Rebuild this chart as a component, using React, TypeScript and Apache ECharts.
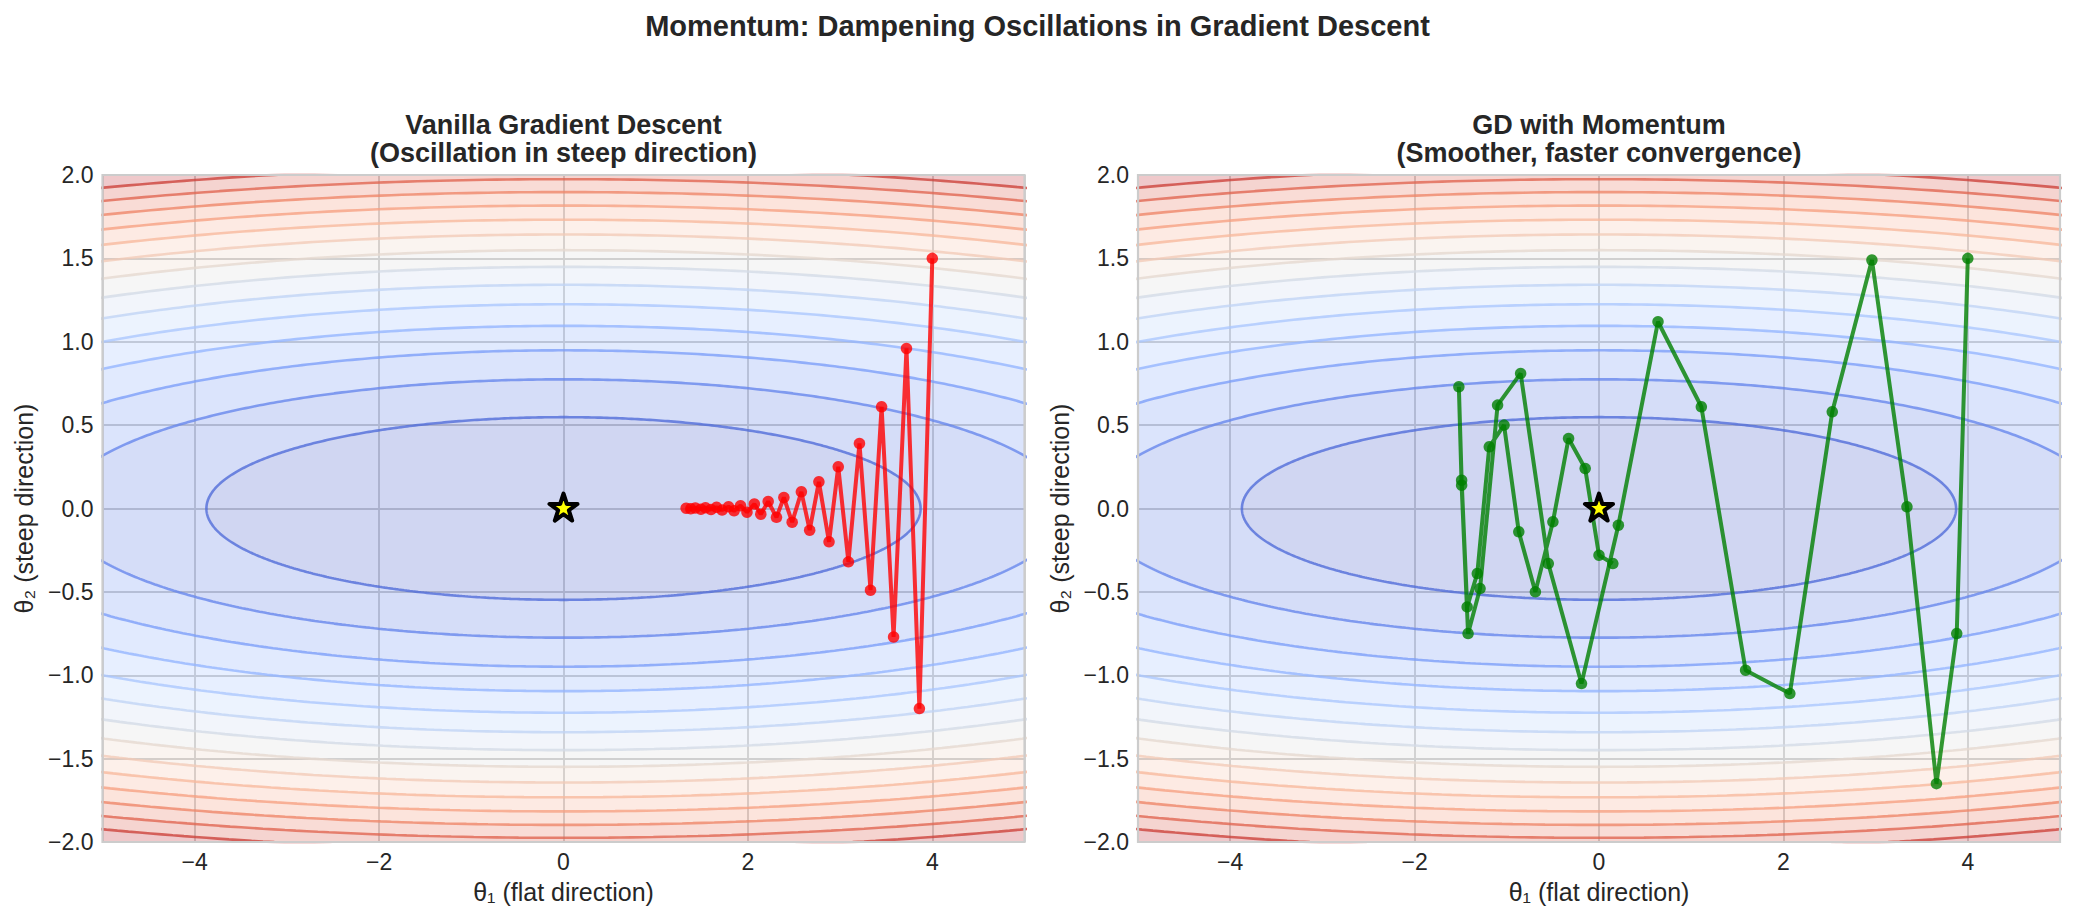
import React, { useEffect, useRef } from 'react';
import * as echarts from 'echarts';

// ---------- texts ----------
const suptitle = 'Momentum: Dampening Oscillations in Gradient Descent';
const panelTitles = [
  'Vanilla Gradient Descent\n(Oscillation in steep direction)',
  'GD with Momentum\n(Smoother, faster convergence)',
];
const xLabel = 'θ₁ (flat direction)';
const yLabel = 'θ₂ (steep direction)';

// ---------- axes ----------
const xRange = [-5, 5];
const yRange = [-2, 2];
const xTicks = [-4, -2, 0, 2, 4];
const yTicks = [-2, -1.5, -1, -0.5, 0, 0.5, 1, 1.5, 2];

// ---------- loss surface f = a·θ₁² + b·θ₂² and its contour levels ----------
const lossA = 0.1;
const lossB = 5;
const contourLevels = [0, 1.5, 3, 4.5, 6, 7.5, 9, 10.5, 12, 13.5, 15, 16.5, 18, 19.5, 21, 22.5];

// ---------- optimizer paths ----------
const gdX = [4.0, 3.86, 3.72, 3.58, 3.45, 3.33, 3.21, 3.09, 2.98, 2.88, 2.77, 2.67, 2.58, 2.48, 2.39, 2.31, 2.22, 2.14, 2.07, 1.99, 1.92, 1.85, 1.79, 1.72, 1.66, 1.6, 1.54, 1.49, 1.43, 1.38, 1.33];
const gdY = [1.5, -1.2, 0.96, -0.77, 0.61, -0.49, 0.39, -0.32, 0.25, -0.2, 0.16, -0.13, 0.1, -0.082, 0.066, -0.053, 0.042, -0.034, 0.027, -0.022, 0.017, -0.014, 0.011, -0.009, 0.007, -0.006, 0.005, -0.004, 0.003, -0.002, 0.002];
const momX = [4.0, 3.88, 3.66, 3.34, 2.96, 2.53, 2.07, 1.59, 1.11, 0.64, 0.21, -0.19, -0.55, -0.85, -1.1, -1.29, -1.42, -1.49, -1.52, -1.49, -1.43, -1.32, -1.19, -1.03, -0.87, -0.69, -0.5, -0.33, -0.15, 0.0, 0.15];
const momY = [1.5, -0.75, -1.65, 0.01, 1.49, 0.58, -1.11, -0.97, 0.61, 1.12, -0.1, -1.05, -0.33, 0.81, 0.62, -0.48, -0.75, 0.14, 0.73, 0.17, -0.59, -0.39, 0.37, 0.5, -0.14, -0.5, -0.08, 0.42, 0.24, -0.28, -0.33];
const optimum = [0, 0];

// coolwarm colormap table
const COOLWARM = [[59,76,192],[68,90,204],[77,104,215],[87,117,225],[98,130,234],[108,142,241],[119,154,247],[130,165,251],[141,176,254],[152,185,255],[163,194,255],[174,201,253],[184,208,249],[194,213,244],[204,217,238],[213,219,230],[221,221,221],[229,216,209],[236,211,197],[241,204,185],[245,196,173],[247,187,160],[247,177,148],[247,166,135],[244,154,123],[241,141,111],[236,127,99],[229,112,88],[222,96,77],[213,80,66],[203,62,56],[192,40,47],[180,4,38]];

function coolwarm(t: number, alpha: number) {
  const tt = Math.max(0, Math.min(1, t));
  const s = tt * (COOLWARM.length - 1);
  const i = Math.min(COOLWARM.length - 2, Math.floor(s));
  const f = s - i;
  const c = COOLWARM[i].map((v, k) => Math.round(v + (COOLWARM[i + 1][k] - v) * f));
  return `rgba(${c[0]},${c[1]},${c[2]},${alpha})`;
}

const FONT = "'Liberation Sans', Arial, Helvetica, sans-serif";
const TEXT = '#262626';
const FILL_ALPHA = 0.25;
const LINE_ALPHA = 0.78;
const N_ELL = 720;

function ellipse(level: number): number[][] {
  const ax = Math.sqrt(level / lossA);
  const ay = Math.sqrt(level / lossB);
  const pts: number[][] = [];
  for (let i = 0; i < N_ELL; i++) {
    const t = (2 * Math.PI * i) / N_ELL;
    pts.push([ax * Math.cos(t), ay * Math.sin(t)]);
  }
  return pts;
}

function intersect(a: number[], b: number[], axis: number, val: number) {
  const t = (val - a[axis]) / (b[axis] - a[axis]);
  return [a[0] + t * (b[0] - a[0]), a[1] + t * (b[1] - a[1])];
}

function clipPoly(pts: number[][]) {
  let out = pts;
  const bounds: [number, number, number][] = [
    [0, xRange[0], 1], [0, xRange[1], -1], [1, yRange[0], 1], [1, yRange[1], -1],
  ];
  for (const [axis, val, sign] of bounds) {
    const inp = out;
    out = [];
    const n = inp.length;
    if (!n) break;
    for (let i = 0; i < n; i++) {
      const cur = inp[i];
      const prev = inp[(i + n - 1) % n];
      const cin = (cur[axis] - val) * sign >= 0;
      const pin = (prev[axis] - val) * sign >= 0;
      if (cin) {
        if (!pin) out.push(intersect(prev, cur, axis, val));
        out.push(cur);
      } else if (pin) {
        out.push(intersect(prev, cur, axis, val));
      }
    }
  }
  return out;
}

function starSymbol() {
  let d = '';
  for (let k = 0; k < 10; k++) {
    const r = k % 2 ? 0.382 : 1;
    const a = ((-90 + 36 * k) * Math.PI) / 180;
    d += (k ? 'L' : 'M') + (r * Math.cos(a)).toFixed(4) + ',' + (r * Math.sin(a)).toFixed(4);
  }
  return 'path://' + d + 'Z';
}

const panels = [
  { left: 102.5, top: 175, width: 922, height: 667 },
  { left: 1138, top: 175, width: 922, height: 667 },
];

const fmtNum = (v: number, dec: number) => (v < 0 ? '\u2212' : '') + Math.abs(v).toFixed(dec);

export default function App() {
  const ref = useRef<HTMLDivElement>(null);

  useEffect(() => {
    if (!ref.current) return;
    const chart = echarts.init(ref.current, undefined, { renderer: 'svg' });
    const maxLevel = contourLevels[contourLevels.length - 1];
    const rectPoly = [[xRange[0], yRange[0]], [xRange[1], yRange[0]], [xRange[1], yRange[1]], [xRange[0], yRange[1]]];

    const series: any[] = [];
    panels.forEach((_, gi) => {
      // filled bands
      series.push({
        type: 'custom',
        xAxisIndex: gi,
        yAxisIndex: gi,
        silent: true,
        clip: true,
        z: 1,
        encode: { x: 0, y: 1 },
        data: contourLevels.slice(0, -1).map((_, i) => [0, 0, i]),
        renderItem: (params: any, api: any) => {
          const k = api.value(2);
          const lo = contourLevels[k];
          const hi = contourLevels[k + 1];
          const outer = k === contourLevels.length - 2 ? rectPoly : clipPoly(ellipse(hi));
          const inner = lo > 0 ? clipPoly(ellipse(lo)) : [];
          const toPath = (pts: number[][], rev: boolean) => {
            const p = rev ? pts.slice().reverse() : pts;
            return p.map((q, i) => {
              const c = api.coord(q);
              return (i ? 'L' : 'M') + c[0].toFixed(2) + ' ' + c[1].toFixed(2);
            }).join('') + 'Z';
          };
          let d = toPath(outer, false);
          if (inner.length) d += toPath(inner, true);
          return {
            type: 'path',
            shape: { pathData: d },
            style: { fill: coolwarm(((lo + hi) / 2) / maxLevel, FILL_ALPHA), stroke: 'none' },
          };
        },
      });
      // contour lines
      contourLevels.slice(1, -1).forEach((L) => {
        const pts = ellipse(L);
        pts.push(pts[0]);
        series.push({
          type: 'line',
          xAxisIndex: gi,
          yAxisIndex: gi,
          silent: true,
          z: 2,
          symbol: 'none',
          showSymbol: false,
          data: pts,
          lineStyle: { color: coolwarm(L / maxLevel, LINE_ALPHA), width: 2.6 },
          emphasis: { disabled: true },
        });
      });
    });

    const paths = [
      { xs: gdX, ys: gdY, color: '#ff0000' },
      { xs: momX, ys: momY, color: '#008000' },
    ];
    paths.forEach((p, gi) => {
      series.push({
        type: 'line',
        xAxisIndex: gi,
        yAxisIndex: gi,
        silent: true,
        z: 5,
        symbol: 'circle',
        symbolSize: 11.5,
        showSymbol: true,
        showAllSymbol: true,
        data: p.xs.map((x, i) => [x, p.ys[i]]),
        lineStyle: { color: p.color, width: 4, opacity: 0.8 },
        itemStyle: { color: p.color, opacity: 0.8 },
        emphasis: { disabled: true },
      });
      series.push({
        type: 'scatter',
        xAxisIndex: gi,
        yAxisIndex: gi,
        silent: true,
        z: 6,
        symbol: starSymbol(),
        symbolSize: [28, 27],
        symbolOffset: [0, -1.4],
        data: [optimum],
        itemStyle: { color: '#ffff00', borderColor: '#000000', borderWidth: 4, borderJoin: 'round', opacity: 1 },
        emphasis: { disabled: true },
      });
    });

    const option: any = {
      animation: false,
      backgroundColor: '#ffffff',
      textStyle: { fontFamily: FONT },
      grid: panels.map((p) => ({
        ...p,
        show: true,
        borderColor: '#cccccc',
        borderWidth: 2.2,
        backgroundColor: 'transparent',
        z: 4,
      })),
      xAxis: panels.map((_, gi) => ({
        gridIndex: gi,
        type: 'value',
        min: xRange[0],
        max: xRange[1],
        axisLine: { show: false },
        axisTick: { show: false },
        splitLine: { show: true, lineStyle: { color: '#cccccc', width: 1.8 } },
        axisLabel: {
          formatter: (v: number) => (xTicks.includes(v) ? fmtNum(v, 0) : ''),
          fontSize: 23,
          color: TEXT,
          fontFamily: FONT,
          margin: 8,
        },
        name: xLabel,
        nameLocation: 'middle',
        nameGap: 37,
        nameTextStyle: { fontSize: 25, color: TEXT, fontFamily: FONT },
      })),
      yAxis: panels.map((_, gi) => ({
        gridIndex: gi,
        type: 'value',
        min: yRange[0],
        max: yRange[1],
        interval: 0.5,
        axisLine: { show: false },
        axisTick: { show: false },
        splitLine: { show: true, lineStyle: { color: '#cccccc', width: 1.8 } },
        axisLabel: {
          formatter: (v: number) => (yTicks.includes(v) ? fmtNum(v, 1) : ''),
          fontSize: 23,
          color: TEXT,
          fontFamily: FONT,
          margin: 9,
        },
        name: yLabel,
        nameLocation: 'middle',
        nameGap: 66,
        nameRotate: 90,
        nameTextStyle: { fontSize: 25, color: TEXT, fontFamily: FONT },
      })),
      graphic: [
        {
          type: 'text',
          x: 1037.5,
          y: 26,
          style: { text: suptitle, fill: TEXT, fontSize: 29, fontWeight: 'bold', fontFamily: FONT, textAlign: 'center', textVerticalAlign: 'middle' },
        },
        ...panels.map((p, gi) => ({
          type: 'text',
          x: p.left + p.width / 2,
          y: 139,
          style: { text: panelTitles[gi], fill: TEXT, fontSize: 27, fontWeight: 'bold', fontFamily: FONT, textAlign: 'center', textVerticalAlign: 'middle', lineHeight: 28 },
        })),
      ],
      series,
    };
    chart.setOption(option);
    return () => chart.dispose();
  }, []);

  return <div ref={ref} style={{ position: 'absolute', left: 0, top: 0, width: 2075, height: 920 }} />;
}
